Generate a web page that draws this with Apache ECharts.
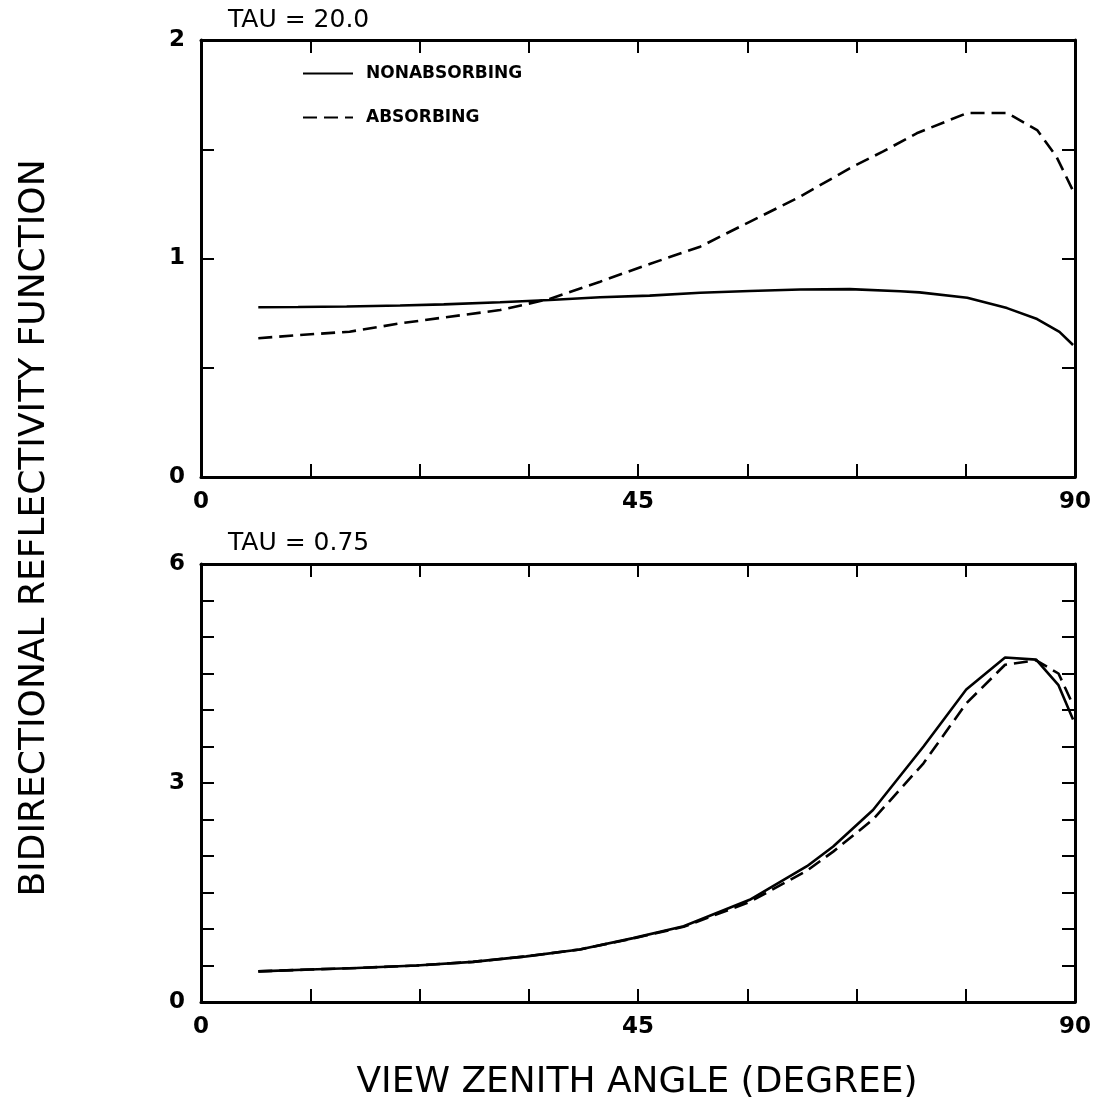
<!DOCTYPE html>
<html><head><meta charset="utf-8">
<script src="https://cdn.jsdelivr.net/npm/echarts@6/dist/echarts.min.js"></script>
<style>html,body{margin:0;padding:0;background:#fff}#c{width:1101px;height:1108px}</style>
</head><body><div id="c"></div>
<script>
// ---- data ----
const topAngles   = [5.9, 10, 15, 20.5, 25, 30.8, 35.9, 41.1, 46.2, 51.4, 56.5, 61.7, 66.8, 72, 74, 78.9, 83, 86.1, 88.4, 89.8];
const topNonAbs   = [0.777, 0.778, 0.780, 0.785, 0.790, 0.800, 0.810, 0.823, 0.830, 0.843, 0.851, 0.858, 0.860, 0.850, 0.845, 0.820, 0.773, 0.723, 0.664, 0.604];
const topAbsAngles= [5.9, 10.2, 15.3, 20.5, 25, 30.8, 35.9, 41.1, 46.2, 51.4, 56.5, 61.7, 66.8, 70.2, 73.7, 78.9, 83, 86.1, 88.1, 89.8];
const topAbs      = [0.635, 0.650, 0.665, 0.703, 0.730, 0.764, 0.815, 0.894, 0.975, 1.054, 1.168, 1.283, 1.413, 1.489, 1.573, 1.666, 1.666, 1.588, 1.465, 1.310];

const botAngles   = [5.9, 11.2, 16, 22.2, 28, 33.5, 39, 44.5, 49.7, 56.5, 62.4, 65.1, 69.2, 74.4, 78.8, 82.8, 86.0, 88.3, 89.8];
const botNonAbs   = [0.42, 0.445, 0.465, 0.50, 0.55, 0.625, 0.72, 0.875, 1.037, 1.40, 1.86, 2.13, 2.63, 3.50, 4.28, 4.72, 4.69, 4.34, 3.87];
const botAbs      = [0.42, 0.445, 0.465, 0.50, 0.55, 0.625, 0.72, 0.87, 1.03, 1.37, 1.80, 2.06, 2.50, 3.27, 4.09, 4.62, 4.68, 4.50, 4.07];

const seriesNames = ['NONABSORBING', 'ABSORBING'];
const panelTitles = ['TAU = 20.0', 'TAU = 0.75'];
const xTitle = 'VIEW ZENITH ANGLE (DEGREE)';
const yTitle = 'BIDIRECTIONAL REFLECTIVITY FUNCTION';
const xLabelValues = [0, 45, 90];
const topYLabels = [0, 1, 2];
const botYLabels = [0, 3, 6];

// ---- chart ----
const pair = (xs, ys) => xs.map((x, i) => [x, ys[i]]);
const FONT = 'DejaVu Sans';
const near = (v, arr) => arr.some(a => Math.abs(a - v) < 1e-6);

function xAx(gi, pos, labels) {
  return {
    type: 'value', gridIndex: gi, position: pos, min: 0, max: 90, interval: 11.25,
    axisLine: { show: true, onZero: false, lineStyle: { color: '#000', width: 3 } },
    axisTick: { show: true, inside: true, length: 13, lineStyle: { color: '#000', width: 2 } },
    splitLine: { show: false },
    axisLabel: labels ? {
      show: true, showMinLabel: true, showMaxLabel: true, margin: 14,
      fontFamily: FONT, fontWeight: 'bold', fontSize: 23, color: '#000',
      formatter: v => near(v, xLabelValues) ? String(Math.round(v)) : ''
    } : { show: false }
  };
}
function yAx(gi, pos, max, labelVals) {
  return {
    type: 'value', gridIndex: gi, position: pos, min: 0, max: max, interval: 0.5,
    axisLine: { show: true, onZero: false, lineStyle: { color: '#000', width: 3 } },
    axisTick: { show: true, inside: true, length: 13, lineStyle: { color: '#000', width: 2 } },
    splitLine: { show: false },
    axisLabel: labelVals ? {
      show: true, showMinLabel: true, showMaxLabel: true, margin: 16,
      fontFamily: FONT, fontWeight: 'bold', fontSize: 23, color: '#000',
      formatter: v => near(v, labelVals) ? String(Math.round(v)) : ''
    } : { show: false }
  };
}
function line(name, xi, yi, data, dashed) {
  return {
    name, type: 'line', xAxisIndex: xi, yAxisIndex: yi, data,
    symbol: 'none', showSymbol: false, smooth: false, animation: false,
    lineStyle: { color: '#000', width: 2.6, type: dashed ? [14, 7] : 'solid' },
    itemStyle: { color: '#000' }
  };
}

const chart = echarts.init(document.getElementById('c'), null, { renderer: 'canvas' });
chart.setOption({
  animation: false,
  backgroundColor: '#fff',
  grid: [
    { left: 201, top: 40, width: 874, height: 437 },
    { left: 201, top: 564, width: 874, height: 438 }
  ],
  xAxis: [xAx(0, 'bottom', true), xAx(0, 'top', false), xAx(1, 'bottom', true), xAx(1, 'top', false)],
  yAxis: [yAx(0, 'left', 2, topYLabels), yAx(0, 'right', 2, null), yAx(1, 'left', 6, botYLabels), yAx(1, 'right', 6, null)],
  legend: {
    data: seriesNames, orient: 'vertical', left: 297, top: 60, itemWidth: 50, itemHeight: 14, itemGap: 27,
    itemStyle: { opacity: 0 },
    textStyle: { fontFamily: FONT, fontWeight: 'bold', fontSize: 17, color: '#000', padding: [0, 0, 0, 8] },
    selectedMode: false
  },
  series: [
    line(seriesNames[0], 0, 0, pair(topAngles, topNonAbs), false),
    line(seriesNames[1], 0, 0, pair(topAbsAngles, topAbs), true),
    line(seriesNames[0], 2, 2, pair(botAngles, botNonAbs), false),
    line(seriesNames[1], 2, 2, pair(botAngles, botAbs), true)
  ],
  graphic: [
    { type: 'text', left: 228, top: 8, style: { text: panelTitles[0], font: '500 25px "DejaVu Sans"', fill: '#000' } },
    { type: 'text', left: 228, top: 531, style: { text: panelTitles[1], font: '500 25px "DejaVu Sans"', fill: '#000' } },
    { type: 'text', x: 637, y: 1083, style: { text: xTitle, font: '36px "DejaVu Sans"', fill: '#000', textAlign: 'center', textVerticalAlign: 'middle' } },
    { type: 'text', x: 35, y: 528, rotation: Math.PI / 2, style: { text: yTitle, font: '36px "DejaVu Sans"', fill: '#000', textAlign: 'center', textVerticalAlign: 'middle' } }
  ]
});
</script>
</body></html>
